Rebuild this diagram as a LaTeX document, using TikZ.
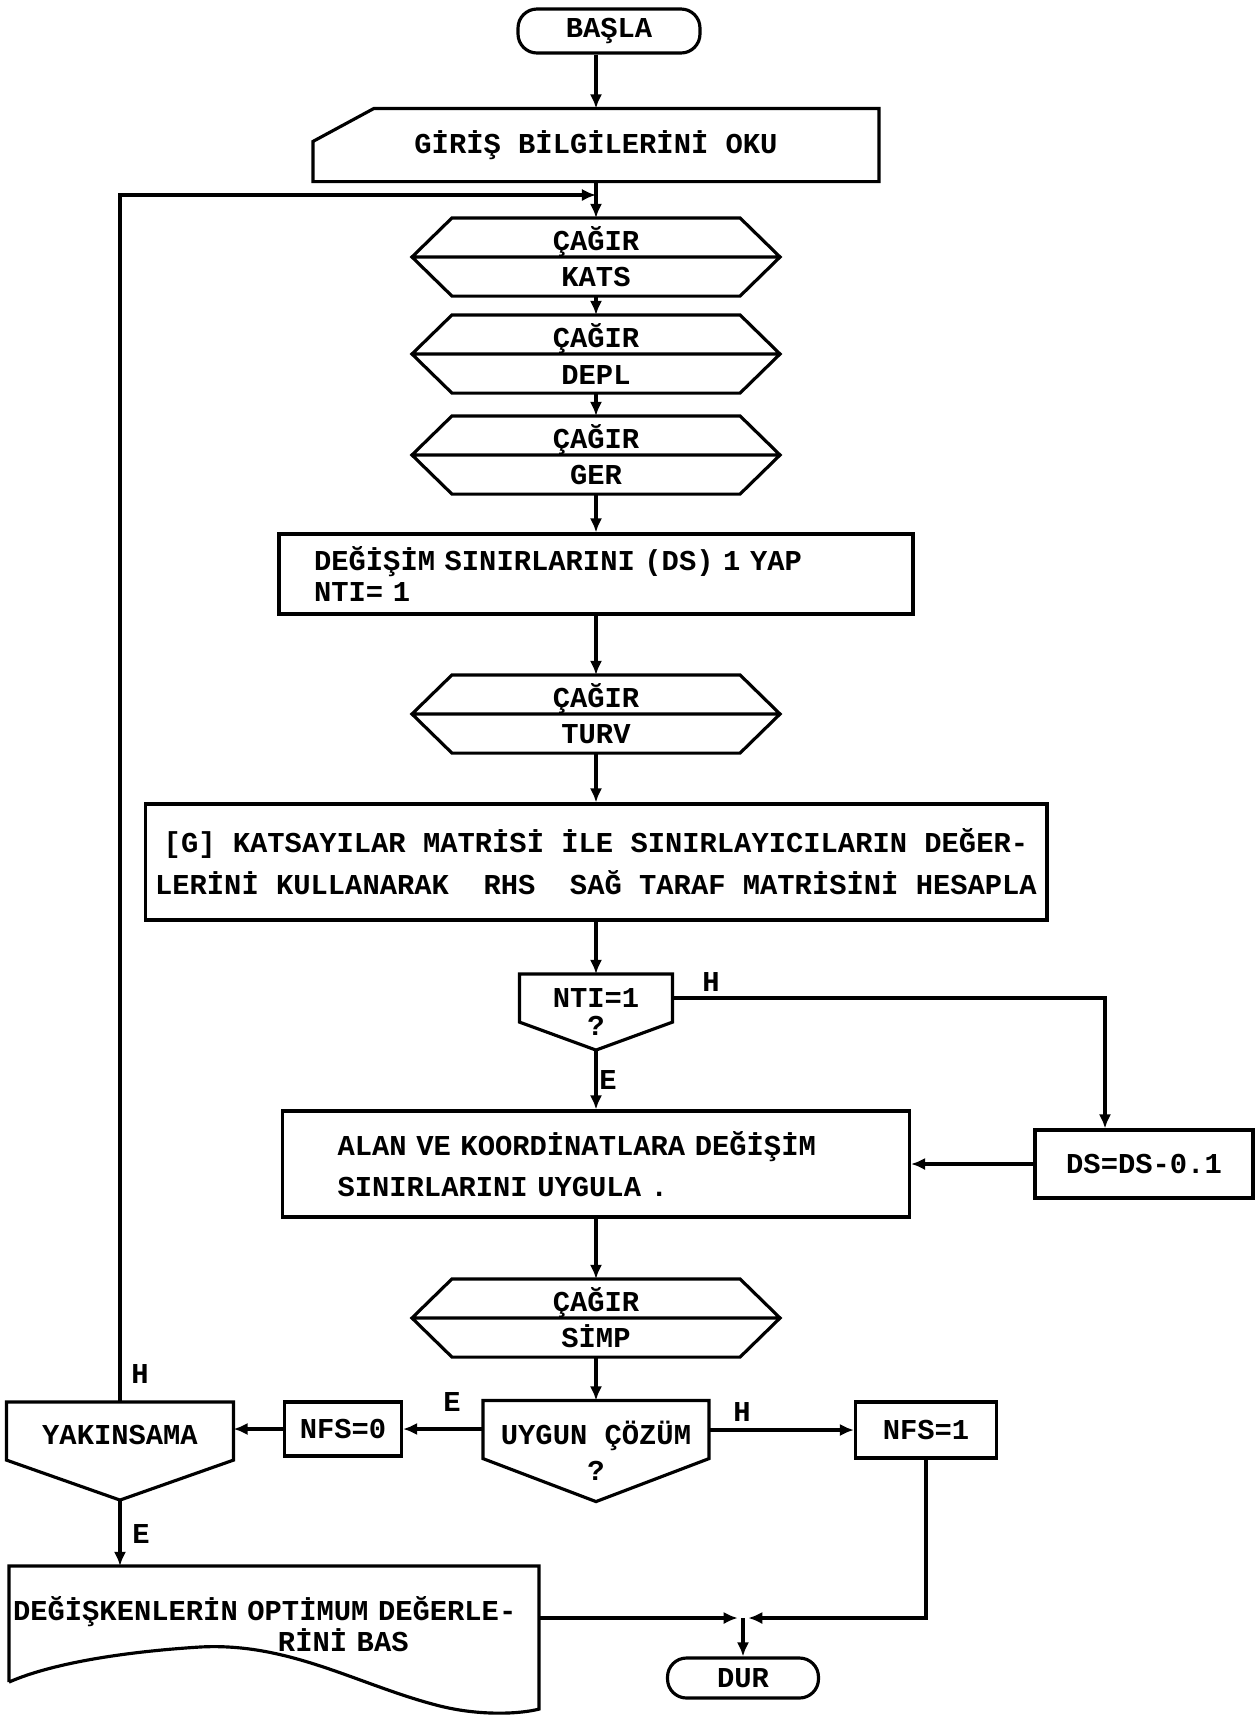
\documentclass[tikz,border=0pt]{standalone}
\usepackage{fontspec}
\newfontfamily\typefont{Liberation Mono}
\usetikzlibrary{arrows.meta,calc}
\newcommand\tw[1]{\typefont\bfseries\fontsize{16.4}{#1}\selectfont}

\begin{document}
\begin{tikzpicture}[x=0.02cm, y=-0.02cm, line width=1.8pt,
  every node/.style={font=\tw{20}, inner sep=0pt},
  term/.style={draw, rounded corners=0.38cm},
  proc/.style={draw},
  callbox/.style={minimum width=7.3cm, minimum height=1.5cm, align=center, font=\tw{20.5}},
  flow/.style={-{Latex[length=8pt,width=7pt]}},
  tag/.style={font=\tw{16}}]
\useasboundingbox (0,0) rectangle (1260,1715);
% start and input card
\node[term, minimum width=3.64cm, minimum height=0.88cm] (basla) at (609,31) {BAŞLA};
\node[minimum width=11.26cm, minimum height=1.4cm] (oku) at (596,145) {GİRİŞ BİLGİLERİNİ OKU};
\draw (oku.south west) -- ($(oku.north west)+(0,33)$) -- ($(oku.north west)+(61,0)$) -- (oku.north east) -- (oku.south east) -- cycle;
% subroutine calls and process boxes
\node[callbox] (kats) at (596,257) {ÇAĞIR\\KATS};
\node[callbox] (depl) at (596,354) {ÇAĞIR\\DEPL};
\node[callbox] (ger) at (596,455) {ÇAĞIR\\GER};
\node[proc, minimum height=1.6cm, text width=11.28cm, inner xsep=0.7cm, align=left, font=\tw{17.6}] (setds) at (596,574) {DEĞİŞİM SINIRLARINI (DS) 1 YAP\\NTI= 1};
\node[callbox] (turv) at (596,714) {ÇAĞIR\\TURV};
\node[proc, minimum width=18.04cm, minimum height=2.32cm, align=center, font=\tw{23.8}] (rhs) at (596,862) {[G] KATSAYILAR MATRİSİ İLE SINIRLAYICILARIN DEĞER-\\LERİNİ KULLANARAK\ \ RHS\ \ SAĞ TARAF MATRİSİNİ HESAPLA};
\node[minimum width=3cm, minimum height=1.46cm, align=center, font=\tw{15.4}] (nti) at (596,1012) {NTI=1\\?};
\node[proc, minimum height=2.12cm, text width=10.34cm, inner xsep=1.1cm, align=left, font=\tw{23.2}] (alan) at (596,1164) {ALAN VE KOORDİNATLARA DEĞİŞİM\\SINIRLARINI UYGULA .};
\node[proc, minimum width=4.36cm, minimum height=1.36cm] (ds) at (1144,1164) {DS=DS-0.1};
\node[callbox] (simp) at (596,1318) {ÇAĞIR\\SİMP};
\node[minimum width=4.46cm, minimum height=1.96cm, align=center, font=\tw{20.5}] (uygun) at (596,1451) {UYGUN ÇÖZÜM\\?};
\node[proc, minimum width=2.34cm, minimum height=1.08cm] (nfs0) at (343,1429) {NFS=0};
\node[proc, minimum width=2.82cm, minimum height=1.12cm] (nfs1) at (926,1430) {NFS=1};
\node[minimum width=4.48cm, minimum height=1.9cm, text depth=0.66cm] (yakin) at (120,1451) {YAKINSAMA};
\node[minimum width=10.54cm, minimum height=2.26cm, text width=10.44cm, inner xsep=0.05cm, align=left, font=\tw{13.7}] (print) at (274,1624) {DEĞİŞKENLERİN OPTİMUM DEĞERLE-\\\hspace*{5.3cm}RİNİ BAS};
\node[term, minimum width=3.02cm, minimum height=0.8cm] (dur) at (743,1678) {DUR};
% hexagons, decisions, document
\foreach \n in {kats,depl,ger,turv,simp}
  \draw (\n.west) -- ($(\n.north west)+(40,0)$) -- ($(\n.north east)+(-40,0)$) -- (\n.east) -- ($(\n.south east)+(-40,0)$) -- ($(\n.south west)+(40,0)$) -- cycle (\n.west) -- (\n.east);
\foreach \n/\d in {nti/28,uygun/43,yakin/40}
  \draw (\n.north west) -- (\n.north east) -- ($(\n.south east)+(0,-\d)$) -- (\n.south) -- ($(\n.south west)+(0,-\d)$) -- cycle;
\draw (print.south west) -- (print.north west) -- (print.north east) -- ($(print.south east)+(0,27)$)
  .. controls (520,1714) and (480,1716) .. (440,1706) .. controls (360,1686) and (290,1642) .. (200,1647)
  .. controls (120,1652) and (50,1664) .. (print.south west);
% connectors
\coordinate (back) at (596,195);
\coordinate (hturn) at (1105,998);
\coordinate (join) at (743,1618);
\draw[flow] (basla.south -| oku.north) -- (oku.north);
\draw[flow] (oku.south) -- (kats.north);
\draw[flow] (yakin.north) |- (back);
\draw[flow] (kats.south) -- (depl.north);
\draw[flow] (depl.south) -- (ger.north);
\draw[flow] (ger.south) -- (setds.north);
\draw[flow] (setds.south) -- (turv.north);
\draw[flow] (turv.south) -- (rhs.north);
\draw[flow] (rhs.south) -- (nti.north);
\draw[flow] (nti.south) -- (alan.north);
\draw[flow] (nti.east |- hturn) -- (hturn) -- (hturn |- ds.north);
\draw[flow] (ds.west) -- (alan.east);
\draw[flow] (alan.south) -- (simp.north);
\draw[flow] (simp.south) -- (uygun.north);
\draw[flow] (uygun.west |- nfs0) -- (nfs0.east);
\draw[flow] (nfs0.west) -- (yakin.east |- nfs0);
\draw[flow] (uygun.east |- nfs1) -- (nfs1.west);
\draw[flow] (yakin.south) -- (yakin.south |- print.north);
\draw[flow, shorten >=3pt] (print.east |- join) -- (join);
\draw[flow, shorten >=3pt] (nfs1.south) |- (join);
\draw[flow] (join) -- (dur.north);
% branch letters
\node[tag] (hnti) at (711,982) {H};
\node[tag] (enti) at (608,1080) {E};
\node[tag] (eok) at (452,1402) {E};
\node[tag] (hno) at (742,1412) {H};
\node[tag] (hyak) at (140,1374) {H};
\node[tag] (eyak) at (141,1534) {E};
\end{tikzpicture}
\end{document}
